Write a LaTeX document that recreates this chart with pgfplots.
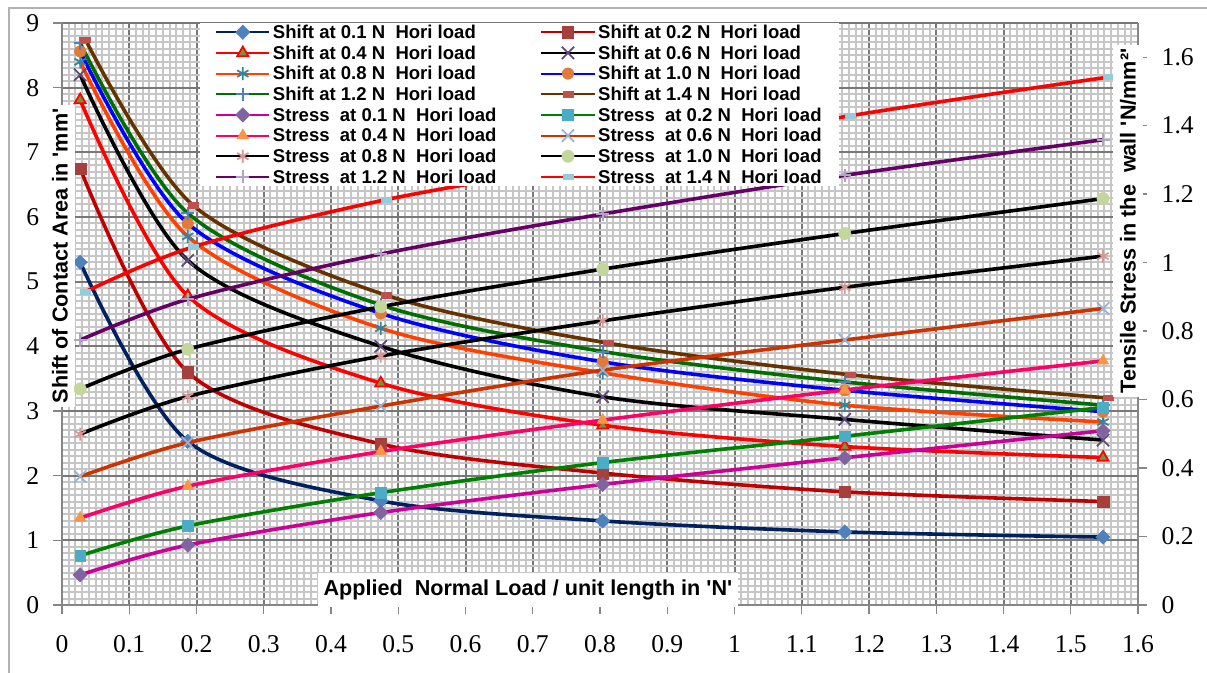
\documentclass[border=0pt]{standalone}
\usepackage{fontspec}
\setmainfont{Liberation Serif}
\newfontfamily\arial{Liberation Sans}
\newfontfamily\timesf{Liberation Serif}
\usepackage{pgfplots}
\pgfplotsset{compat=1.18}

\definecolor{cNavy}{HTML}{002060}
\definecolor{cSteel}{HTML}{4F81BD}
\definecolor{cDarkRed}{HTML}{C00000}
\definecolor{cBrick}{HTML}{A5403D}
\definecolor{cOlive}{HTML}{77933C}
\definecolor{cPurpleM}{HTML}{604A7B}
\definecolor{cOrRed}{HTML}{FF4000}
\definecolor{cTeal}{HTML}{31859C}
\definecolor{cOrangeM}{HTML}{E07B39}
\definecolor{cGreenD}{HTML}{006E00}
\definecolor{cBrown}{HTML}{663300}
\definecolor{cRedM}{HTML}{C0504D}
\definecolor{cMagenta}{HTML}{CC0099}
\definecolor{cPurple}{HTML}{8064A2}
\definecolor{cGreen}{HTML}{008000}
\definecolor{cCyan}{HTML}{4BACC6}
\definecolor{cPink}{HTML}{FF0066}
\definecolor{cOrange}{HTML}{F79646}
\definecolor{cRust}{HTML}{CC3300}
\definecolor{cLBlue}{HTML}{95B3D7}
\definecolor{cRose}{HTML}{D99694}
\definecolor{cLGreen}{HTML}{C3D69B}
\definecolor{cPlum}{HTML}{660066}
\definecolor{cLav}{HTML}{B3A2C7}
\definecolor{cAqua}{HTML}{93CDDD}
\definecolor{axgray}{HTML}{868686}
\definecolor{majgray}{HTML}{787878}
\definecolor{mingray}{HTML}{C6C6C6}

\tikzset{lab/.style={fill=white, font=\arial\bfseries\fontsize{16.2}{18}\selectfont}}

% 1 px of the reference = 0.75pt
\pgfplotsset{
  base/.style={
    scale only axis, width=807pt, height=436.5pt,
    at={(46.5pt,51pt)}, anchor=south west,
    xmin=0, xmax=1.6,
    /pgf/number format/assume math mode=true,
    tick label style={font=\timesf\fontsize{19.2}{21}\selectfont},
    tick align=outside, major tick length=6.75pt, minor tick length=0pt,
    every tick/.style={draw=axgray, line width=1pt},
    axis line style={draw=axgray, line width=1pt},
  },
  curve/.style={smooth, line width=2.7pt},
  % shift series
  sA/.style={curve, color=cNavy, mark=square*, mark options={solid, rotate=45, fill=cSteel, draw=cSteel, mark size=3.8pt, line width=0.4pt}},
  sB/.style={curve, color=cDarkRed, mark=square*, mark options={solid, fill=cBrick, draw=cBrick, mark size=4.3pt, line width=0.4pt}},
  sC/.style={curve, color=red, mark=triangle*, mark options={solid, fill=cOlive, draw=red, mark size=4.8pt, line width=1.3pt}},
  sD/.style={curve, color=black, mark=x, mark options={solid, draw=cPurpleM, mark size=6.5pt, line width=1.3pt}},
  sE/.style={curve, color=cOrRed, mark=asterisk, mark options={solid, draw=cTeal, mark size=4.9pt, line width=1.3pt}},
  sF/.style={curve, color=blue, mark=*, mark options={solid, fill=cOrangeM, draw=cOrangeM, mark size=4.3pt, line width=0.4pt}},
  sG/.style={curve, color=cGreenD, mark=+, mark options={solid, draw=cSteel, mark size=4.9pt, line width=1.5pt}},
  sH/.style={curve, color=cBrown, mark=square*, mark options={solid, xscale=1.9, fill=cRedM, draw=cRedM, mark size=2pt, line width=0.4pt}},
  % stress series
  tA/.style={curve, color=cMagenta, mark=square*, mark options={solid, rotate=45, fill=cPurple, draw=cPurple, mark size=3.8pt, line width=0.4pt}},
  tB/.style={curve, color=cGreen, mark=square*, mark options={solid, fill=cCyan, draw=cCyan, mark size=4pt, line width=0.4pt}},
  tC/.style={curve, color=cPink, mark=triangle*, mark options={solid, fill=cOrange, draw=cOrange, mark size=5pt, line width=0.4pt}},
  tD/.style={curve, color=cRust, mark=x, mark options={solid, draw=cLBlue, mark size=6.5pt, line width=1.3pt}},
  tE/.style={curve, color=black, mark=asterisk, mark options={solid, draw=cRose, mark size=4.9pt, line width=1.3pt}},
  tF/.style={curve, color=black, mark=*, mark options={solid, fill=cLGreen, draw=cLGreen, mark size=4.6pt, line width=0.4pt}},
  tG/.style={curve, color=cPlum, mark=+, mark options={solid, draw=cLav, mark size=4.9pt, line width=1.5pt}},
  tH/.style={curve, color=red, mark=square*, mark options={solid, xscale=1.9, fill=cAqua, draw=cAqua, mark size=2pt, line width=0.4pt}},
}

\begin{document}
\begin{tikzpicture}
\useasboundingbox (0,0) rectangle (905.25pt,504.75pt);
\draw[color=gray!60, line width=1.5pt] (6.75pt,0pt) -- (6.75pt,498.75pt) -- (905.25pt,498.75pt);

% left axis: shift of contact area
\begin{axis}[base,
  ymin=0, ymax=9,
  axis x line*=bottom, axis y line*=left,
  xtick={0,0.1,0.2,0.3,0.4,0.5,0.6,0.7,0.8,0.9,1,1.1,1.2,1.3,1.4,1.5,1.6},
  ytick={0,1,2,3,4,5,6,7,8,9},
  xticklabel style={yshift=-12.75pt},
  yticklabel style={xshift=-6.75pt},
  minor x tick num=9, minor y tick num=9,
  grid=both,
  major grid style={draw=majgray, line width=1.5pt},
  minor grid style={draw=mingray, line width=1.5pt},
  xlabel={Applied~ Normal Load / unit length in \textquotesingle N\textquotesingle},
  ylabel={Shift of Contact Area in \textquotesingle mm\textquotesingle},
  every axis x label/.style={lab, at={(axis description cs:0.433,0.0258)}, anchor=center, inner xsep=4.5pt, inner ysep=5pt},
  every axis y label/.style={lab, at={(axis description cs:-0.0019,0.5997)}, rotate=90, anchor=center, inner xsep=2.6pt, inner ysep=5pt},
]
\addplot[sA] coordinates {(0.027,5.30)(0.187,2.53)(0.474,1.61)(0.804,1.30)(1.164,1.13)(1.548,1.05)};
\addplot[sB] coordinates {(0.027,6.75)(0.187,3.60)(0.474,2.49)(0.804,2.04)(1.164,1.75)(1.548,1.60)};
\addplot[sC] coordinates {(0.027,7.81)(0.187,4.78)(0.474,3.43)(0.804,2.78)(1.164,2.45)(1.548,2.28)};
\addplot[sD] coordinates {(0.027,8.20)(0.187,5.33)(0.474,4.00)(0.804,3.22)(1.164,2.87)(1.548,2.55)};
\addplot[sE] coordinates {(0.027,8.40)(0.187,5.70)(0.474,4.28)(0.804,3.59)(1.164,3.09)(1.548,2.83)};
\addplot[sF] coordinates {(0.027,8.56)(0.187,5.90)(0.474,4.51)(0.804,3.76)(1.164,3.32)(1.548,2.99)};
\addplot[sG] coordinates {(0.027,8.69)(0.187,6.06)(0.474,4.64)(0.804,3.92)(1.164,3.45)(1.548,3.09)};
\addplot[sH] coordinates {(0.035,8.74)(0.195,6.18)(0.482,4.79)(0.812,4.05)(1.172,3.56)(1.556,3.20)};
\end{axis}

% right axis: tensile stress
\begin{axis}[base,
  ymin=0, ymax=1.7,
  axis x line=none, axis y line*=right,
  ytick={0,0.2,0.4,0.6,0.8,1,1.2,1.4,1.6},
  yticklabel style={xshift=7.5pt},
  ylabel={Tensile Stress in the~ wall \textquotesingle N/mm²\textquotesingle},
  every axis y label/.style={lab, at={(axis description cs:0.9907,0.6598)}, rotate=90, anchor=center, inner xsep=2.6pt, inner ysep=5pt},
  legend columns=2, legend cell align=left,
  legend image code/.code={\draw[mark repeat=2,mark phase=2,#1,line width=1.5pt] plot coordinates {(0pt,0pt)(19.875pt,0pt)(39.75pt,0pt)};},
  legend style={at={(axis description cs:0.1283,1)}, anchor=north west, draw=none, fill=white,
    inner xsep=11.25pt, inner ysep=1pt, row sep=4pt,
    font=\arial\bfseries\fontsize{13.9}{15}\selectfont,
    nodes={inner ysep=0pt, text height=10.5pt, text depth=1pt},
    /tikz/every even column/.append style={column sep=31pt}},
]
\addlegendimage{sA}\addlegendentry{Shift at 0.1 N~ Hori load}
\addlegendimage{sB}\addlegendentry{Shift at 0.2 N~ Hori load}
\addlegendimage{sC}\addlegendentry{Shift at 0.4 N~ Hori load}
\addlegendimage{sD}\addlegendentry{Shift at 0.6 N~ Hori load}
\addlegendimage{sE}\addlegendentry{Shift at 0.8 N~ Hori load}
\addlegendimage{sF}\addlegendentry{Shift at 1.0 N~ Hori load}
\addlegendimage{sG}\addlegendentry{Shift at 1.2 N~ Hori load}
\addlegendimage{sH}\addlegendentry{Shift at 1.4 N~ Hori load}
\addplot[tA] coordinates {(0.027,0.088)(0.187,0.175)(0.474,0.270)(0.804,0.352)(1.164,0.430)(1.548,0.509)};
\addlegendentry{Stress~ at 0.1 N~ Hori load}
\addplot[tB] coordinates {(0.027,0.144)(0.187,0.231)(0.474,0.328)(0.804,0.416)(1.164,0.493)(1.548,0.577)};
\addlegendentry{Stress~ at 0.2 N~ Hori load}
\addplot[tC] coordinates {(0.027,0.254)(0.187,0.347)(0.474,0.448)(0.804,0.540)(1.164,0.628)(1.548,0.713)};
\addlegendentry{Stress~ at 0.4 N~ Hori load}
\addplot[tD] coordinates {(0.027,0.375)(0.187,0.474)(0.474,0.581)(0.804,0.686)(1.164,0.774)(1.548,0.866)};
\addlegendentry{Stress~ at 0.6 N~ Hori load}
\addplot[tE] coordinates {(0.027,0.499)(0.187,0.609)(0.474,0.727)(0.804,0.830)(1.164,0.928)(1.548,1.019)};
\addlegendentry{Stress~ at 0.8 N~ Hori load}
\addplot[tF] coordinates {(0.027,0.631)(0.187,0.747)(0.474,0.871)(0.804,0.981)(1.164,1.085)(1.548,1.187)};
\addlegendentry{Stress~ at 1.0 N~ Hori load}
\addplot[tG] coordinates {(0.027,0.774)(0.187,0.893)(0.474,1.025)(0.804,1.142)(1.164,1.255)(1.548,1.359)};
\addlegendentry{Stress~ at 1.2 N~ Hori load}
\addplot[tH] coordinates {(0.035,0.915)(0.195,1.046)(0.482,1.184)(0.812,1.300)(1.172,1.429)(1.556,1.542)};
\addlegendentry{Stress~ at 1.4 N~ Hori load}
\end{axis}
\end{tikzpicture}
\end{document}
